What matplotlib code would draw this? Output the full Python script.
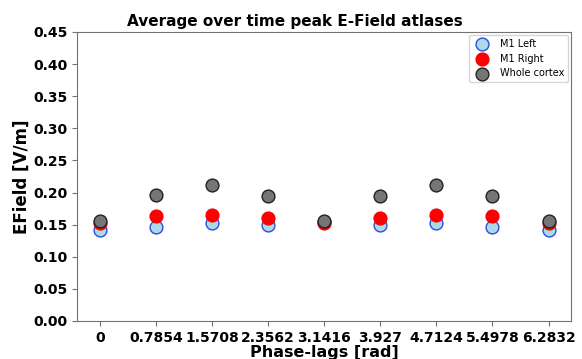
import numpy as np
import matplotlib.pyplot as plt

phase_labels = ['0', '0.7854', '1.5708', '2.3562', '3.1416', '3.927', '4.7124', '5.4978', '6.2832']
m1_left = [0.142, 0.146, 0.152, 0.150, 0.154, 0.150, 0.152, 0.146, 0.142]
m1_right = [0.152, 0.163, 0.165, 0.161, 0.153, 0.161, 0.165, 0.163, 0.152]
whole = [0.156, 0.196, 0.211, 0.194, 0.155, 0.194, 0.211, 0.195, 0.155]

fig, ax = plt.subplots(figsize=(5.82, 3.59), dpi=100)
x = np.arange(len(phase_labels))
ax.scatter(x, m1_left, s=85, c='lightblue', edgecolors='#2a4fe0', linewidths=1.0, label='M1 Left', zorder=3)
ax.scatter(x, m1_right, s=85, c='red', edgecolors='red', label='M1 Right', zorder=3)
ax.scatter(x, whole, s=85, c='#757575', edgecolors='#222222', linewidths=1.0, label='Whole cortex', zorder=3)

ax.set_ylim(0, 0.45)
ax.set_yticks(np.arange(0, 0.451, 0.05))
ax.set_xticks(x)
ax.set_xticklabels(phase_labels, fontweight='bold', fontsize=10)
for t in ax.get_yticklabels():
    t.set_fontweight('bold')
    t.set_fontsize(10)
for sp in ax.spines.values():
    sp.set_color('0.45')
ax.tick_params(color='0.45')
ax.set_xlabel('Phase-lags [rad]', fontweight='bold', fontsize=11.5, labelpad=0)
ax.set_ylabel('EField [V/m]', fontweight='bold', fontsize=12, labelpad=2)
ax.set_title('Average over time peak E-Field atlases', fontweight='bold', fontsize=11, pad=4, x=0.441)
ax.legend(loc='upper right', fontsize=7, borderaxespad=0.3)

fig.subplots_adjust(left=0.133, right=0.981, top=0.911, bottom=0.106)
fig.savefig('out.png')
